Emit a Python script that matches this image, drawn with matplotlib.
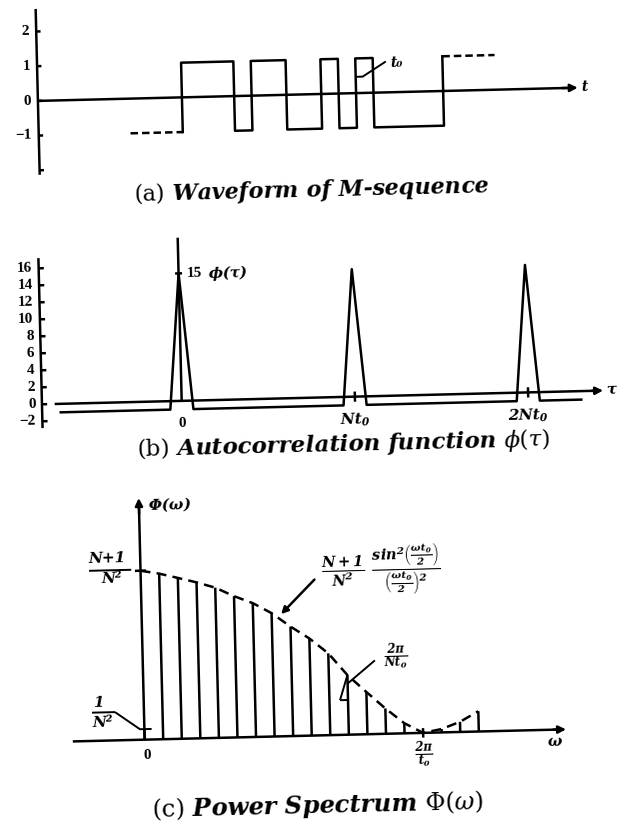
import numpy as np
import matplotlib
matplotlib.use("Agg")
import matplotlib.pyplot as plt
from matplotlib.patches import FancyArrowPatch
from matplotlib.text import Text
from matplotlib.transforms import Affine2D

plt.rcParams['mathtext.fontset'] = 'custom'
plt.rcParams['mathtext.rm'] = 'DejaVu Serif'
plt.rcParams['mathtext.it'] = 'DejaVu Serif:italic'
plt.rcParams['mathtext.bf'] = 'DejaVu Serif:italic:bold'

# (a) one period of the 15-chip M-sequence, time in units of t0
chips = [1, 1, 1, -1, 1, 1, -1, -1, 1, -1, 1, -1, -1, -1, -1]
seq_start = 8.27
a_ticks = [2, 1, 0, -1, -2]
a_tick_labels = ['2', '1', '0', '\u22121', '']

# (b) autocorrelation, lag in units of t0
lag_pts = [-10.6, -1, 0, 1, 14, 15, 16, 29, 30, 31, 34.7]
acf_pts = [-1, -1, 15, -1, -1, 15, -1, -1, 15, -1, -1]
b_ticks = [16, 14, 12, 10, 8, 6, 4, 2, 0, -2]
b_tick_labels = ['16', '14', '12', '10', '8', '6', '4', '2', '0', '\u22122']
lag_ticks = [0, 15, 30]
lag_labels = ['0', r'$\mathbf{Nt_0}$', r'$\mathbf{2Nt_0}$']

# (c) power spectrum lines, k = harmonic index (spacing 2*pi/(N t0))
N = 15
harmonics = list(range(1, 19))
spec_rel = [0.98, 0.952, 0.923, 0.889, 0.836, 0.792, 0.730, 0.648, 0.575,
            0.484, 0.353, 0.25, 0.15, 0.06, 0.0, 0.02, 0.06, 0.12]

peak = (N + 1) / N**2
dc = 1 / N**2

W, H = 623, 833
TILT = 1.4
LW = 1.8

fig = plt.figure(figsize=(W / 100, H / 100), dpi=100)


def panel(x0, sx, y0, sy):
    # axes spanning the sheet, data origin at pixel (x0, y0) from top-left
    ax = fig.add_axes([0, 0, 1, 1])
    ax.set_xlim(-x0 / sx, (W - x0) / sx)
    ax.set_ylim((y0 - H) / sy, y0 / sy)
    ax.set_axis_off()
    return ax


def line(ax, xs, ys, **kw):
    kw.setdefault('color', 'k')
    kw.setdefault('lw', LW)
    ax.plot(xs, ys, solid_capstyle='butt', **kw)


def arrow(ax, p0, p1, ms=11):
    ax.add_patch(FancyArrowPatch(p0, p1, arrowstyle='-|>', mutation_scale=ms,
                                 color='k', lw=LW, shrinkA=0, shrinkB=0))


def num(ax, x, y, s, size=11, ha='center', va='center'):
    ax.text(x, y, s, fontsize=size, ha=ha, va=va,
            family=['Liberation Serif', 'DejaVu Serif'], weight='bold')


def sym(ax, x, y, s, size=10, ha='center', va='center'):
    ax.text(x, y, s, fontsize=size, ha=ha, va=va,
            family='DejaVu Serif', weight='bold', style='italic')


def tilt(ax):
    rot = Affine2D().rotate_deg_around(W / 2, H / 2, TILT)
    for art in list(ax.lines) + list(ax.patches) + list(ax.texts) + list(ax.collections):
        art.set_transform(art.get_transform() + rot)
        if isinstance(art, Text):
            art.set_rotation(TILT)


# ---------------- (a) waveform ----------------
ax = panel(45.7, 17.42, 94.3, 34.7)
line(ax, [0, 0], [-2.13, 2.65])
for v, s in zip(a_ticks, a_tick_labels):
    line(ax, [0, 0.25], [v, v])
    num(ax, -0.4, v, s, ha='right')
line(ax, [0, 30.4], [0, 0])
arrow(ax, (30.1, 0), (31.0, 0))
sym(ax, 31.2, 0.02, 't', size=10, ha='left')

edges = seq_start + np.arange(len(chips) + 1)
xs = np.concatenate([[seq_start], edges])
ys = [chips[-1]] + chips + [chips[0]]
ax.step(xs, ys, where='post', color='k', lw=LW)
line(ax, [seq_start - 3, seq_start], [chips[-1]] * 2, ls=(0, (3, 1.6)))
line(ax, [edges[-1], edges[-1] + 3], [chips[0]] * 2, ls=(0, (3, 1.6)))
# chip width marker
w0 = seq_start + 10
line(ax, [w0, w0 + 0.4, w0 + 1.75], [0.47, 0.47, 0.89], lw=1.4)
sym(ax, w0 + 2.0, 0.86, 't\u2080', size=10, ha='left')
tilt(ax)

# ---------------- (b) autocorrelation ----------------
ax = panel(182.1, 11.55, 397.7, 8.5)
line(ax, [-12.1, -12.1], [-2.8, 17.2])
for v, s in zip(b_ticks, b_tick_labels):
    line(ax, [-12.1, -11.65], [v, v])
    num(ax, -12.65, v, s, ha='right')
line(ax, [-11.0, 35.8], [0, 0])
arrow(ax, (35.5, 0), (36.5, 0))
ax.text(36.75, 0.2, r'$\mathbf{\tau}$', fontsize=11, ha='left', va='center')
line(ax, lag_pts, acf_pts)
line(ax, [0, 0], [0, 19.2])
line(ax, [-0.3, 0.3], [15, 15])
num(ax, 0.7, 15, '15', ha='left')
ax.text(2.5, 15, r'$\mathbf{\phi(\tau)}$', fontsize=11, ha='left', va='center')
for v, s in zip(lag_ticks, lag_labels):
    if v:
        line(ax, [v, v], [-0.6, 0.6])
    num(ax, v, -2.7, s, size=11)
tilt(ax)

# ---------------- (c) power spectrum ----------------
ax = panel(136.8, 18.57, 735.5, 2376.6)
heights = [r * peak for r in spec_rel]
ax.vlines(harmonics, 0, heights, color='k', lw=LW)
ax.vlines([0], 0, dc, color='k', lw=LW)
line(ax, [0] + harmonics, [peak] + heights, ls=(0, (4, 2.5)))

line(ax, [-3.87, 22.2], [0, 0])
arrow(ax, (22.0, 0), (22.7, 0))
line(ax, [0, 0], [0, 0.0985])
arrow(ax, (0, 0.095), (0, 0.1017))
ax.text(0.45, 0.0987, r'$\mathbf{\Phi(\omega)}$', fontsize=11, ha='left', va='center')

# (N+1)/N^2 level
sym(ax, -1.79, 0.0764, 'N+1', size=11)
line(ax, [-2.77, -0.5], [0.0716, 0.0716], lw=1.4)
line(ax, [-0.3, 0.3], [peak, peak])
sym(ax, -1.54, 0.0679, 'N\u00b2', size=11)

# 1/N^2 level
sym(ax, -2.47, 0.0159, '1', size=11)
line(ax, [-2.8, -1.56], [0.0119, 0.0119], lw=1.4)
sym(ax, -2.24, 0.0074, 'N\u00b2', size=11)
line(ax, [-1.56, -0.24, 0.39], [0.0119, dc, dc], lw=1.4)

# envelope formula
ax.text(12.95, 0.0681,
        r'$\mathbf{\frac{N+1}{N^2}\ \frac{sin^2\left(\frac{\omega t_0}{2}\right)}'
        r'{\left(\frac{\omega t_0}{2}\right)^2}}$',
        fontsize=15, ha='center', va='center')
arrow(ax, (9.35, 0.0656), (7.51, 0.0514), ms=10)

# line spacing marker
line(ax, [10.57, 11.0], [0.0146, 0.0146], lw=1.4)
line(ax, [10.57, 11.0], [0.0146, 0.0251], lw=1.4)
line(ax, [11.0, 12.5], [0.0215, 0.031], lw=1.4)
ax.text(13.64, 0.0322, r'$\mathbf{\frac{2\pi}{Nt_0}}$', fontsize=12, ha='center', va='center')

num(ax, 0.1, -0.0065, '0')
line(ax, [15, 15], [-0.002, 0.002])
ax.text(15.02, -0.0094, r'$\mathbf{\frac{2\pi}{t_0}}$', fontsize=12, ha='center', va='center')
ax.text(22.09, -0.0048, r'$\mathbf{\omega}$', fontsize=11, ha='center', va='center')
tilt(ax)

# captions
cap = dict(family='DejaVu Serif', weight='bold', style='italic',
           ha='center', va='center', rotation=TILT, rotation_mode='anchor')
fig.text(312 / W, 1 - 190 / H, r'$\mathrm{(a)}$ Waveform of M-sequence', fontsize=16, **cap)
fig.text(343 / W, 1 - 444 / H, r'$\mathrm{(b)}$ Autocorrelation function $\phi(\tau)$',
         fontsize=16.5, **cap)
fig.text(318 / W, 1 - 806 / H, r'$\mathrm{(c)}$ Power Spectrum $\Phi(\omega)$', fontsize=17.5, **cap)

fig.savefig('out.png', dpi=100)
